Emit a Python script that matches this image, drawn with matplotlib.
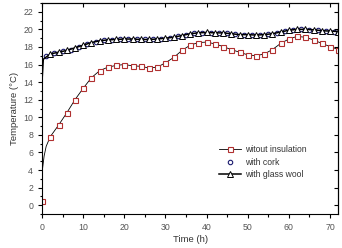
import matplotlib
import matplotlib.pyplot as plt
import numpy as np
from matplotlib.ticker import MultipleLocator

matplotlib.use("Agg")

plt.rcParams["font.family"] = ["Liberation Sans", "DejaVu Sans"]

# without insulation (markers every 2 h, first few points describe the steep start)
t_red = [0, 0.02, 0.5, 1, 2, 4, 6, 8, 10, 12, 14, 16, 18, 20, 22, 24, 26, 28, 30,
         32, 34, 36, 38, 40, 42, 44, 46, 48, 50, 52, 54, 56, 58, 60, 62, 64, 66,
         68, 70, 72]
temp_red = [0.5, 3.8, 5.6, 6.7, 7.8, 9.1, 10.5, 12.0, 13.3, 14.5, 15.3, 15.7, 15.9,
            16.0, 15.85, 15.8, 15.6, 15.7, 16.2, 16.8, 17.6, 18.2, 18.5, 18.55,
            18.35, 18.05, 17.7, 17.4, 17.1, 17.0, 17.2, 17.7, 18.4, 18.9, 19.2,
            19.1, 18.8, 18.4, 18.05, 17.7]
red_marks = [0] + list(range(4, len(t_red)))

# with glass wool
t_wool = [0, 0.3, 2, 4, 6, 8, 10, 12, 14, 16, 18, 20, 22, 24, 26, 28, 30, 32, 34,
          36, 38, 40, 42, 44, 46, 48, 50, 52, 54, 56, 58, 60, 62, 64, 66, 68, 70, 72]
temp_wool = [14.2, 16.6, 17.2, 17.4, 17.6, 17.9, 18.2, 18.5, 18.7, 18.8, 18.85,
             18.9, 18.9, 18.85, 18.85, 18.9, 19.0, 19.1, 19.3, 19.5, 19.6, 19.65,
             19.6, 19.6, 19.5, 19.4, 19.4, 19.35, 19.4, 19.5, 19.7, 19.9, 20.0,
             20.0, 19.95, 19.85, 19.8, 19.75]

# with cork
t_cork = [1, 3, 5, 7, 9, 11, 13, 15, 17, 19, 21, 23, 25, 27, 29, 31, 33, 35, 37,
          39, 41, 43, 45, 47, 49, 51, 53, 55, 57, 59, 61, 63, 65, 67, 69, 71]
temp_cork = [17.0, 17.3, 17.5, 17.7, 18.0, 18.35, 18.6, 18.75, 18.8, 18.85, 18.9,
             18.85, 18.85, 18.85, 18.95, 19.05, 19.2, 19.4, 19.55, 19.6, 19.6,
             19.6, 19.55, 19.45, 19.4, 19.35, 19.35, 19.45, 19.6, 19.8, 19.95,
             20.0, 19.95, 19.9, 19.8, 19.75]

fig = plt.figure(figsize=(3.42, 2.48), dpi=100)
ax = fig.add_axes([0.123, 0.137, 0.866, 0.851])

ax.plot(t_red, temp_red, color="black", lw=0.6, marker="s", markersize=3.6,
        markerfacecolor="white", markeredgecolor="#b03030", markeredgewidth=0.8,
        markevery=red_marks, label="witout insulation")
ax.plot(t_cork, temp_cork, linestyle="none", marker="o", markersize=3.2,
        markerfacecolor="white", markeredgecolor="#1a1a6e", markeredgewidth=0.8,
        label="with cork")
ax.plot(t_wool, temp_wool, color="black", lw=1.1, marker="^", markersize=3.8,
        markerfacecolor="white", markeredgecolor="black", markeredgewidth=0.7,
        markevery=list(range(2, len(t_wool))), label="with glass wool")

ax.set_xlim(0, 72)
ax.set_ylim(-1, 23)
ax.xaxis.set_major_locator(MultipleLocator(10))
ax.xaxis.set_minor_locator(MultipleLocator(5))
ax.yaxis.set_major_locator(MultipleLocator(2))
ax.yaxis.set_minor_locator(MultipleLocator(1))
ax.tick_params(which="both", direction="out", labelsize=6.3, labelcolor="#555555",
               width=0.8, top=False, right=False)
ax.tick_params(which="major", length=3)
ax.tick_params(which="minor", length=1.8)
for side in ["top", "right"]:
    ax.spines[side].set_linewidth(0.8)

sec_y = ax.secondary_yaxis("right")
sec_y.set_yticks(np.arange(0, 23, 2))
sec_y.tick_params(direction="in", labelright=False, length=3)
sec_x = ax.secondary_xaxis("top")
sec_x.set_xticks(np.arange(0, 73, 10))
sec_x.tick_params(direction="in", labeltop=False, length=3)

ax.set_xlabel("Time (h)", fontsize=6.8, color="#333333", labelpad=2)
ax.set_ylabel("Temperature (\u00b0C)", fontsize=6.8, color="#333333", labelpad=3)

leg = ax.legend(loc="upper left", bbox_to_anchor=(0.585, 0.345), frameon=False,
                prop={"size": 6.2}, handlelength=2.6, handletextpad=0.4,
                labelspacing=0.45, borderaxespad=0)
for txt in leg.get_texts():
    txt.set_color("#333333")

fig.savefig("out.png", dpi=100)
